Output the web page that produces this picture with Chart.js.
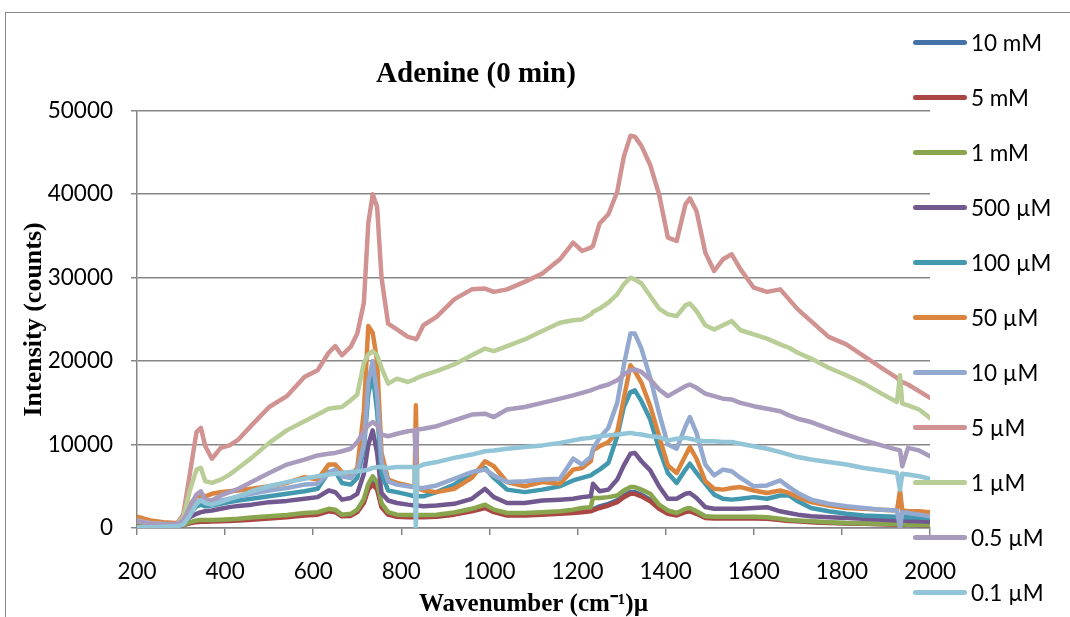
<!DOCTYPE html>
<html>
<head>
<meta charset="utf-8">
<title>Adenine (0 min)</title>
<script src="https://cdn.jsdelivr.net/npm/chart.js@4.4.1/dist/chart.umd.min.js"></script>
<style>
  html, body { margin: 0; padding: 0; background: #ffffff; }
  #wrap { position: relative; width: 1070px; height: 617px; overflow: hidden; }
  #frame { position: absolute; left: 5px; top: 12px; width: 1200px; height: 800px;
           border-left: 1.5px solid #8a8a8a; border-top: 1.5px solid #8a8a8a; }
  #chart { position: absolute; left: 0; top: 0; }
  #legend { position: absolute; left: 913px; top: 14.5px; margin: 0; padding: 0; list-style: none;
            font-family: Lato, "Open Sans", sans-serif; font-size: 22.5px; color: #000; }
  #legend li { height: 55px; display: flex; align-items: center; white-space: nowrap; }
  #legend .swatch { width: 54px; height: 5px; border-radius: 2.5px; margin-right: 4px; }
</style>
</head>
<body>
<div id="wrap">
  <div id="frame"></div>
  <canvas id="chart" width="1070" height="617"></canvas>
  <ul id="legend"></ul>
</div>
<script>
// Raman shift sample positions (cm-1), shared by every spectrum
const wavenumbers = [
  200, 230, 260, 290, 305, 320, 335, 345, 355, 370,
  390, 410, 430, 460, 500, 540, 580, 610, 635, 650,
  665, 685, 700, 715, 725, 735, 745, 755, 770, 790,
  815, 830, 833, 836, 850, 880, 920, 960, 990, 1010,
  1040, 1080, 1120, 1160, 1190, 1210, 1230, 1235, 1250, 1270,
  1290, 1305, 1320, 1330, 1345, 1365, 1385, 1405, 1425, 1445,
  1455, 1470, 1490, 1510, 1530, 1550, 1570, 1600, 1630, 1660,
  1680, 1700, 1730, 1770, 1810, 1850, 1890, 1925, 1932, 1937,
  1950, 1975, 2000
];

// Intensity (counts) for each adenine concentration
const conc10mM = [
  650, 480, 380, 320, 380, 620, 800, 850, 850, 860,
  900, 950, 1000, 1100, 1250, 1400, 1600, 1700, 2100, 2000,
  1500, 1550, 2000, 3200, 4900, 5600, 5000, 2700, 1700, 1450,
  1400, 1400, 1400, 1400, 1400, 1450, 1700, 2100, 2550, 2000,
  1600, 1600, 1700, 1800, 1950, 2050, 2150, 2250, 2600, 2900,
  3300, 3900, 4300, 4300, 4000, 3400, 2500, 1850, 1600, 2000,
  2150, 1800, 1300, 1250, 1250, 1250, 1250, 1250, 1200, 1000,
  900, 850, 750, 650, 580, 520, 470, 420, 420, 420,
  400, 370, 340
];
const conc5mM = [
  600, 450, 350, 300, 350, 550, 700, 750, 750, 780,
  800, 850, 900, 1000, 1150, 1300, 1500, 1600, 2000, 1900,
  1400, 1450, 1900, 3000, 4600, 5200, 4600, 2500, 1600, 1350,
  1300, 1300, 1300, 1300, 1300, 1350, 1600, 2000, 2400, 1900,
  1500, 1500, 1600, 1700, 1800, 1900, 2000, 2100, 2400, 2700,
  3100, 3700, 4100, 4100, 3800, 3200, 2300, 1700, 1500, 1900,
  2000, 1700, 1200, 1150, 1150, 1150, 1150, 1150, 1100, 950,
  850, 800, 700, 600, 550, 500, 450, 400, 400, 400,
  380, 350, 320
];
const conc1mM = [
  700, 500, 400, 350, 400, 700, 900, 950, 950, 950,
  1000, 1050, 1100, 1250, 1400, 1550, 1800, 1900, 2300, 2200,
  1600, 1700, 2200, 3500, 5300, 6200, 5500, 3000, 1900, 1600,
  1550, 1550, 1550, 1550, 1550, 1600, 1850, 2300, 2800, 2200,
  1800, 1800, 1900, 2000, 2200, 2400, 2500, 3600, 3600, 3700,
  3900, 4500, 4900, 4900, 4600, 4100, 2800, 2100, 1800, 2300,
  2400, 2000, 1400, 1350, 1350, 1350, 1350, 1350, 1300, 1100,
  950, 900, 800, 700, 600, 550, 500, 450, 450, 450,
  400, 380, 350
];
const conc500uM = [
  800, 600, 500, 450, 600, 1300, 1700, 1900, 2000, 2100,
  2300, 2500, 2650, 2800, 3100, 3250, 3500, 3700, 4500, 4300,
  3400, 3600, 4100, 6500, 10000, 11700, 9000, 4200, 3300, 3000,
  2800, 2700, 2700, 2700, 2600, 2700, 2900, 3500, 4700, 3700,
  3000, 3000, 3300, 3400, 3500, 3700, 3800, 5300, 4400, 4600,
  5800, 7500, 8900, 9000, 8000, 6900, 5000, 3500, 3500, 4100,
  4200, 3600, 2500, 2300, 2300, 2300, 2300, 2400, 2500, 2000,
  1800, 1600, 1400, 1300, 1200, 1100, 1000, 900, 900, 900,
  850, 800, 750
];
const conc100uM = [
  800, 600, 500, 450, 700, 1800, 2600, 2800, 2600, 2700,
  2900, 3100, 3300, 3500, 3800, 4100, 4400, 4700, 6700, 6800,
  5400, 5200, 6000, 9500, 16000, 18500, 14000, 6500, 4500, 4300,
  4000, 3800, 3800, 3800, 3800, 4300, 5200, 6600, 7200, 6000,
  4600, 4300, 4600, 5000, 5700, 6000, 6300, 6500, 7000, 7800,
  11000, 14500, 16300, 16500, 15200, 13000, 9500, 6600, 5400, 7000,
  7700, 6600, 5300, 4000, 3500, 3400, 3500, 3700, 3500, 3900,
  3900, 3200, 2400, 2000, 1700, 1500, 1400, 1350, 1350, 1300,
  1300, 1250, 1200
];
const conc50uM = [
  1350, 900, 700, 600, 900, 2800, 3800, 3900, 3800, 4100,
  4300, 4400, 4500, 4700, 5000, 5400, 6100, 5800, 7600, 7600,
  6700, 6300, 7200, 14000, 24200, 23400, 20000, 9000, 5800, 5400,
  5100, 4900, 14700, 4800, 4500, 4300, 4700, 6000, 8000, 7400,
  5500, 5000, 5500, 5300, 7000, 7200, 8000, 9300, 9800, 10300,
  11500, 15500, 19500, 18800, 17400, 14600, 11000, 7500, 6600, 8700,
  9700, 8300, 5600, 4700, 4600, 4800, 4900, 4500, 4200, 4500,
  4200, 3700, 3100, 2700, 2400, 2300, 2200, 2100, 4500, 2100,
  2000, 2000, 1900
];
const conc10uM = [
  900, 600, 500, 450, 800, 2200, 3000, 3400, 3000, 3000,
  3300, 3500, 3800, 4100, 4500, 4800, 5200, 5300, 6600, 7000,
  6200, 6000, 6800, 10000, 17500, 20000, 16000, 8000, 5600, 5200,
  5000, 4900, 4900, 4800, 4800, 5100, 5900, 6700, 7000, 6300,
  5500, 5600, 5800, 5900, 8300, 7600, 8500, 9500, 10800, 12000,
  15000, 19500, 23300, 23300, 21500, 18000, 13800, 10000, 9500, 12200,
  13300, 11400, 7600, 6300, 7000, 6800, 6000, 5000, 5100, 5700,
  4900, 4200, 3400, 2900, 2600, 2400, 2200, 2100, 0, 1900,
  1800, 1600, 1400
];
const conc5uM = [
  900, 600, 450, 500, 1600, 6500, 11500, 12000, 9800, 8300,
  9600, 9900, 10600, 12300, 14500, 15800, 18100, 18900, 21000, 21800,
  20700, 21700, 23300, 27000, 36500, 40000, 38500, 30000, 24500, 23800,
  22900, 22700, 22600, 22800, 24300, 25300, 27400, 28600, 28700, 28300,
  28600, 29500, 30500, 32200, 34200, 33200, 33600, 33800, 36500, 37600,
  40300, 44500, 47000, 46900, 45800, 43500, 40000, 34800, 34400, 38800,
  39500, 38000, 33000, 30800, 32200, 32800, 31000, 28800, 28300, 28600,
  27400, 26200, 24800, 22900, 22000, 20600, 19200, 18000, 17600, 17500,
  17200, 16400, 15600
];
const conc1uM = [
  800, 550, 450, 450, 1200, 4500, 7000, 7200, 5600, 5400,
  5800, 6400, 7200, 8400, 10200, 11700, 12800, 13600, 14300, 14400,
  14500, 15300, 16000, 19800, 20800, 21200, 20700, 19200, 17300, 17900,
  17500, 17800, 17900, 18000, 18300, 18800, 19600, 20700, 21500, 21200,
  21800, 22600, 23600, 24600, 24900, 25000, 25600, 25900, 26300, 27000,
  28000, 29200, 30000, 29800, 29300, 27800, 26300, 25600, 25400, 26700,
  26900, 26000, 24300, 23800, 24300, 24800, 23700, 23200, 22700, 22000,
  21600, 21000, 20300, 19200, 18300, 17300, 16100, 15100, 18300, 14900,
  14700, 14200, 13200
];
const conc05uM = [
  800, 550, 450, 450, 900, 2500, 4000, 4400, 3400, 3300,
  3900, 4300, 4700, 5500, 6600, 7600, 8200, 8700, 8900, 9000,
  9200, 9500, 10300, 11600, 12300, 12700, 12300, 11200, 11000, 11300,
  11600, 11700, 7800, 11800, 11900, 12200, 12900, 13600, 13700, 13300,
  14200, 14500, 15000, 15500, 15900, 16200, 16500, 16600, 16900, 17200,
  17700, 18400, 18900, 19000, 18700, 17800, 16600, 15800, 16400, 17000,
  17200, 16800, 16100, 15800, 15500, 15400, 15000, 14600, 14300, 14000,
  13500, 13100, 12700, 11900, 11200, 10500, 9900, 9400, 9300, 7400,
  9600, 9300, 8600
];
const conc01uM = [
  100, 100, 150, 200, 400, 1500, 2900, 3300, 3000, 2800,
  3100, 3500, 3800, 4400, 5000, 5500, 5900, 6200, 6400, 6500,
  6600, 6700, 6800, 6900, 7000, 7200, 7300, 7300, 7200, 7300,
  7300, 7300, 0, 7300, 7600, 7900, 8400, 8800, 9200, 9300,
  9500, 9700, 9900, 10200, 10500, 10700, 10800, 10900, 11000, 11100,
  11200, 11300, 11400, 11300, 11200, 11000, 10900, 10500, 10700, 10800,
  10700, 10500, 10400, 10400, 10300, 10300, 10100, 9800, 9500, 9100,
  8800, 8500, 8200, 7900, 7600, 7200, 6900, 6600, 4600, 6500,
  6400, 6200, 5900
];

const seriesLabels = ['10 mM', '5 mM', '1 mM', '500 µM', '100 µM', '50 µM',
                      '10 µM', '5 µM', '1 µM', '0.5 µM', '0.1 µM'];
const seriesValues = [conc10mM, conc5mM, conc1mM, conc500uM, conc100uM, conc50uM,
                      conc10uM, conc5uM, conc1uM, conc05uM, conc01uM];
const seriesColors = ['#4572A7', '#AA4643', '#89A54E', '#71588F', '#4198AF', '#DB843D',
                      '#93A9CF', '#D19392', '#B9CD96', '#A99BBD', '#92C5D8'];

const xTicks = { min: 200, max: 2000, step: 200 };
const yTicks = { min: 0, max: 50000, step: 10000 };

const axisGray = '#868686';
const tickFont = { family: 'Lato, "Open Sans", sans-serif', size: 22.5 };
const serifFamily = '"Liberation Serif", "Times New Roman", serif';

// later concentrations are painted over earlier ones
const datasets = seriesValues.map((vals, i) => ({
  label: seriesLabels[i],
  data: wavenumbers.map((x, j) => ({ x: x, y: vals[j] })),
  borderColor: seriesColors[i],
  backgroundColor: seriesColors[i],
  order: seriesValues.length - 1 - i
}));

const plainNumber = (v) => String(v);

const chart = new Chart(document.getElementById('chart'), {
  type: 'line',
  data: { datasets: datasets },
  options: {
    responsive: false,
    animation: false,
    devicePixelRatio: 1,
    layout: { padding: { left: 22, right: 140, top: 0, bottom: 0 } },
    elements: {
      point: { radius: 0, hoverRadius: 0 },
      line: { borderWidth: 4.5, tension: 0, borderCapStyle: 'round', borderJoinStyle: 'round', fill: false }
    },
    plugins: {
      legend: { display: false },
      tooltip: { enabled: false },
      title: {
        display: true,
        text: 'Adenine (0 min)',
        color: '#000',
        font: { family: serifFamily, size: 29, weight: 'bold' },
        padding: { top: 57, bottom: 19 }
      }
    },
    scales: {
      x: {
        type: 'linear',
        min: xTicks.min,
        max: xTicks.max,
        ticks: { stepSize: xTicks.step, color: '#000', font: tickFont, padding: 23, maxRotation: 0, callback: plainNumber },
        grid: { drawOnChartArea: false, drawTicks: true, tickLength: 7, color: axisGray, lineWidth: 1.5 },
        border: { color: axisGray, width: 1.5 },
        title: { display: true, text: 'Wavenumber (cm⁻¹)µ', color: '#000',
                 font: { family: serifFamily, size: 25, weight: 'bold' }, padding: { top: 0, bottom: -3 } },
        afterFit: (scale) => { scale.height = 89; }
      },
      y: {
        min: yTicks.min,
        max: yTicks.max,
        ticks: { stepSize: yTicks.step, color: '#000', font: tickFont, padding: 18, callback: plainNumber },
        grid: { color: axisGray, lineWidth: 1.5, tickLength: 6 },
        border: { color: axisGray, width: 1.5 },
        title: { display: true, text: 'Intensity (counts)', color: '#000',
                 font: { family: serifFamily, size: 26, weight: 'bold' }, padding: { top: -3, bottom: 0 } },
        afterFit: (scale) => { scale.width = 115; }
      }
    }
  }
});

// legend list built from the chart's own legend items
const legendList = document.getElementById('legend');
chart.options.plugins.legend.labels.generateLabels(chart)
  .sort((a, b) => a.datasetIndex - b.datasetIndex)
  .forEach(item => {
    const li = document.createElement('li');
    const sw = document.createElement('span');
    sw.className = 'swatch';
    sw.style.background = item.strokeStyle;
    const tx = document.createElement('span');
    tx.textContent = item.text;
    li.appendChild(sw);
    li.appendChild(tx);
    legendList.appendChild(li);
  });
</script>
</body>
</html>
